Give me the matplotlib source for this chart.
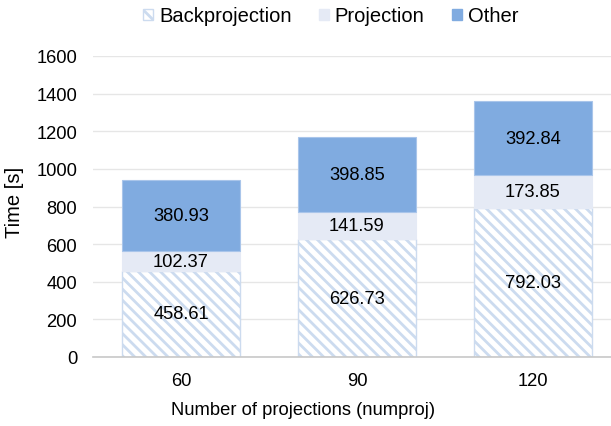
import matplotlib
matplotlib.use("Agg")
import matplotlib.pyplot as plt
from matplotlib.patches import Patch
import numpy as np

categories = ["60", "90", "120"]
backprojection = [458.61, 626.73, 792.03]
projection = [102.37, 141.59, 173.85]
other = [380.93, 398.85, 392.84]

plt.rcParams["font.family"] = ["Liberation Sans", "DejaVu Sans"]
plt.rcParams["hatch.linewidth"] = 2.0
plt.rcParams["hatch.color"] = "#ccdbef"

fig = plt.figure(figsize=(6.11, 4.27), dpi=100)
ax = fig.add_axes([93 / 611, 1 - 358 / 427, (621 - 93) / 611, (358 - 57) / 427])

x = np.arange(len(categories))
w = 0.67
bp = np.array(backprojection)
pr = np.array(projection)
ot = np.array(other)

ax.bar(x, bp, w, color="white", edgecolor="#ccdbef", hatch="\\\\\\", linewidth=1.0, zorder=2)
ax.bar(x, pr, w, bottom=bp, color="#e5eaf5", edgecolor="#e5eaf5", linewidth=0.8, zorder=2)
ax.bar(x, ot, w, bottom=bp + pr, color="#80abe0", edgecolor="#a9c5ea", linewidth=0.8, zorder=2)

for i in range(len(categories)):
    ax.text(x[i], bp[i] / 2, f"{bp[i]:.2f}", ha="center", va="center", fontsize=13.2, zorder=3)
    ax.text(x[i], bp[i] + pr[i] / 2, f"{pr[i]:.2f}", ha="center", va="center", fontsize=13.2, zorder=3)
    ax.text(x[i], bp[i] + pr[i] + ot[i] / 2, f"{ot[i]:.2f}", ha="center", va="center", fontsize=13.2, zorder=3)

ax.set_xlim(-0.5, 2.5)
ax.set_ylim(0, 1600)
ax.set_yticks(np.arange(0, 1601, 200))
ax.set_xticks(x)
ax.set_xticklabels(categories)
ax.tick_params(axis="both", length=0, labelsize=13.2)
ax.tick_params(axis="x", pad=11)
ax.tick_params(axis="y", pad=11.5)
ax.grid(axis="y", color="#e6e6e6", linewidth=1.0, zorder=0)
ax.set_axisbelow(True)
for s in ["top", "right", "left"]:
    ax.spines[s].set_visible(False)
ax.spines["bottom"].set_color("#c8c8c8")
ax.spines["bottom"].set_linewidth(1.2)

ax.set_ylabel("Time [s]", fontsize=14.5)
ax.yaxis.set_label_coords((24 - 93) / 528, (358 - 202.5) / 301)
fig.text(0.496, 1 - 411 / 427, "Number of projections (numproj)", ha="center", va="center", fontsize=13.2)

handles = [
    Patch(facecolor="white", edgecolor="#ccdbef", hatch="\\\\\\", label="Backprojection"),
    Patch(facecolor="#e5eaf5", edgecolor="#e5eaf5", label="Projection"),
    Patch(facecolor="#80abe0", edgecolor="#80abe0", label="Other"),
]
fig.legend(handles=handles, loc="center", bbox_to_anchor=(0.541, 1 - 17 / 427), ncol=3,
           frameon=False, fontsize=14.5, handlelength=0.5, handleheight=0.5,
           handletextpad=0.3, columnspacing=1.35)

fig.savefig("out.png", dpi=100)
